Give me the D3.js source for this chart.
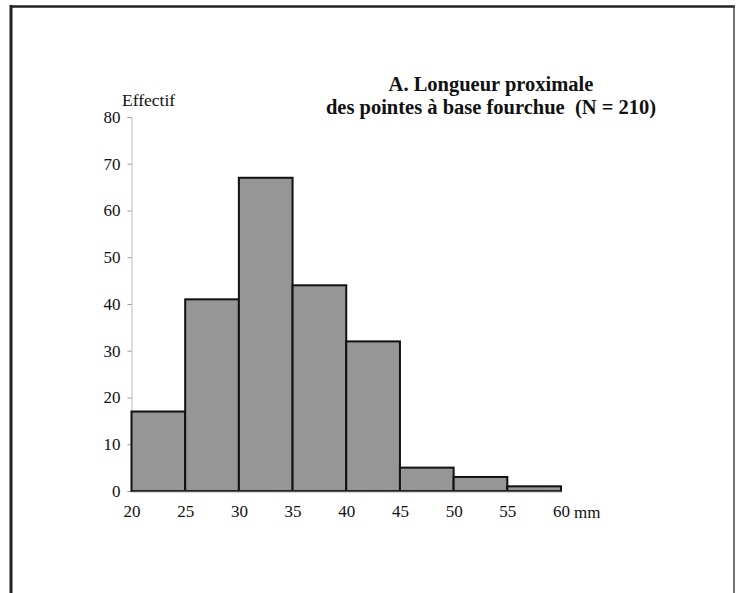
<!DOCTYPE html>
<html><head><meta charset="utf-8">
<script src="https://cdn.jsdelivr.net/npm/d3@7"></script>
<style>body{margin:0;background:#fff}svg{display:block}svg text{font-family:"Liberation Serif","Times New Roman",serif}</style>
</head><body>
<svg id="c" width="736" height="593"></svg>
<script>
const binStarts = [20, 25, 30, 35, 40, 45, 50, 55];
const binWidth = 5;
const counts = [17, 41, 67, 44, 32, 5, 3, 1];
const xTicks = [20, 25, 30, 35, 40, 45, 50, 55, 60];
const yTicks = [0, 10, 20, 30, 40, 50, 60, 70, 80];
const xUnit = "mm";
const yLabel = "Effectif";
const titleLines = ["A. Longueur proximale", "des pointes à base fourchue  (N = 210)"];

const svg = d3.select("#c");

// frame
svg.append("line").attr("x1",11).attr("x2",11).attr("y1",5).attr("y2",593).attr("stroke","#222").attr("stroke-width",3);
svg.append("line").attr("x1",10).attr("x2",735).attr("y1",6.5).attr("y2",6.5).attr("stroke","#222").attr("stroke-width",2.5);
svg.append("line").attr("x1",734).attr("x2",734).attr("y1",6).attr("y2",593).attr("stroke","#444").attr("stroke-width",1.5);

const x = d3.scaleLinear().domain([20, 60]).range([131.5, 561]);
const y = d3.scaleLinear().domain([0, 80]).range([491, 117]);

// y axis
const ya = svg.append("g").attr("transform","translate(131.5,0)")
  .call(d3.axisLeft(y).tickValues(yTicks).tickSize(4).tickPadding(7).tickFormat(d3.format("d")));
ya.attr("font-family",null);
ya.select(".domain").attr("stroke","#bbb").attr("stroke-width",1);
ya.selectAll(".tick line").attr("stroke","#999");
ya.selectAll("text").attr("font-size",17).attr("fill","#111");

// bars
svg.append("g").selectAll("rect").data(counts).join("rect")
  .attr("x",(d,i)=>x(binStarts[i]))
  .attr("width",(d,i)=>x(binStarts[i]+binWidth)-x(binStarts[i]))
  .attr("y",d=>y(d))
  .attr("height",d=>y(0)-y(d))
  .attr("fill","#969696").attr("stroke","#111").attr("stroke-width",2);

// x axis
const xa = svg.append("g").attr("transform",`translate(0,${y(0)})`)
  .call(d3.axisBottom(x).tickValues(xTicks).tickSize(0).tickPadding(14).tickFormat(d3.format("d")));
xa.attr("font-family",null);
xa.select(".domain").attr("stroke","#555").attr("stroke-width",1.5);
xa.selectAll("text").attr("font-size",17).attr("fill","#111");
svg.append("text").attr("x",x(60)+13).attr("y",y(0)+26.5).attr("font-size",17).attr("fill","#111").text(xUnit);

// y label
svg.append("text").attr("x",122).attr("y",106).attr("font-size",17.5).attr("fill","#111").text(yLabel);

// title
svg.append("g").selectAll("text").data(titleLines).join("text")
  .attr("x",491).attr("y",(d,i)=>91+i*23)
  .attr("text-anchor","middle").attr("font-weight","bold")
  .attr("font-size",20.5).attr("fill","#111").style("white-space","pre").text(d=>d);
</script>
</body></html>
